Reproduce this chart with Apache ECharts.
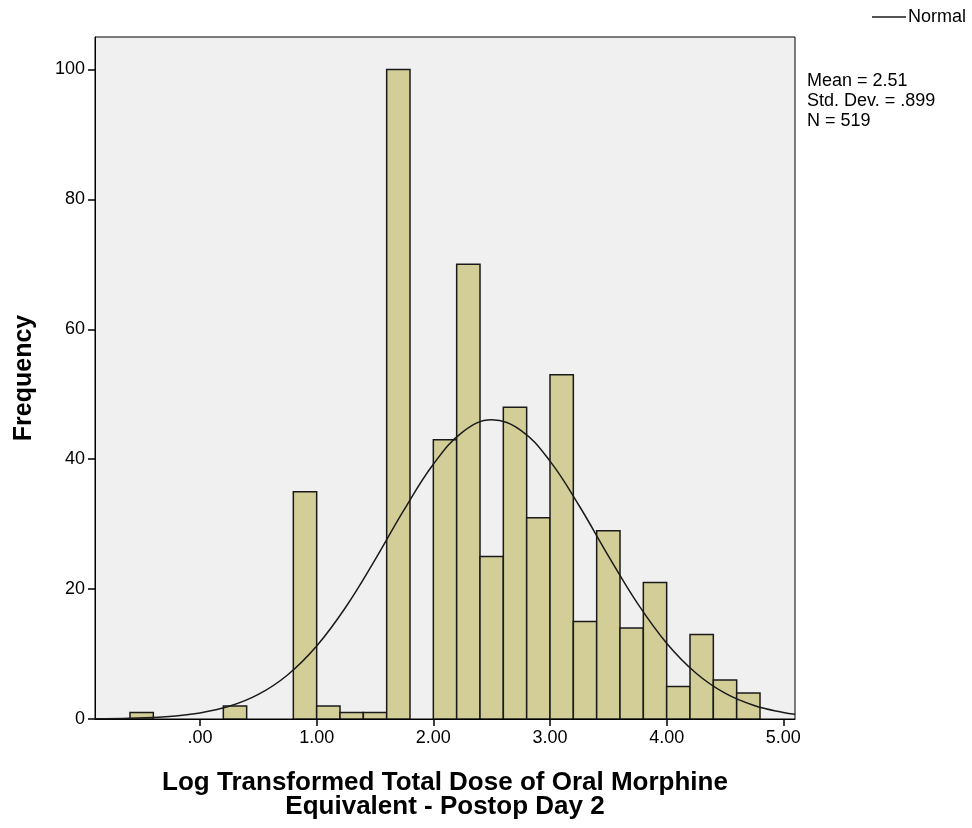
<!DOCTYPE html>
<html>
<head>
<meta charset="utf-8">
<script src="https://cdn.jsdelivr.net/npm/echarts@6/dist/echarts.min.js"></script>
<style>
html,body{margin:0;padding:0;background:#fff;}
#main{width:972px;height:828px;}
</style>
</head>
<body>
<div id="main"></div>
<script>
// ---- data ----
var binLow = [-0.6, 0.2, 0.8, 1.0, 1.2, 1.4, 1.6, 2.0, 2.2, 2.4, 2.6, 2.8, 3.0, 3.2, 3.4, 3.6, 3.8, 4.0, 4.2, 4.4, 4.6];
var binHigh = [-0.4, 0.4, 1.0, 1.2, 1.4, 1.6, 1.8, 2.2, 2.4, 2.6, 2.8, 3.0, 3.2, 3.4, 3.6, 3.8, 4.0, 4.2, 4.4, 4.6, 4.8];
var frequency = [1, 2, 35, 2, 1, 1, 100, 43, 70, 25, 48, 31, 53, 15, 29, 14, 21, 5, 13, 6, 4];

// fitted normal curve (Mean = 2.51, SD = .899, N = 519), sampled points
var curveX = [-0.9, -0.6, -0.3, 0, 0.25, 0.5, 0.75, 1.0, 1.25, 1.5, 1.75, 2.0, 2.25, 2.5, 2.75, 3.0, 3.25, 3.5, 3.75, 4.0, 4.25, 4.5, 4.75, 5.0, 5.1];
var curveY = [0.04, 0.12, 0.35, 0.94, 1.95, 3.78, 6.78, 11.24, 17.25, 24.5, 32.22, 39.22, 44.17, 46.06, 44.45, 39.7, 32.83, 25.12, 17.79, 11.66, 7.08, 3.97, 2.07, 0.99, 0.73];

var xTickValues = [0, 1, 2, 3, 4, 5];
var xTickLabels = ['.00', '1.00', '2.00', '3.00', '4.00', '5.00'];
var yTickValues = [0, 20, 40, 60, 80, 100];
var yTickLabels = ['0', '20', '40', '60', '80', '100'];

var statsLines = ['Mean = 2.51', 'Std. Dev. = .899', 'N = 519'];
var xTitle = 'Log Transformed Total Dose of Oral Morphine\nEquivalent - Postop Day 2';
var yTitle = 'Frequency';
var seriesName = 'Normal';

// ---- chart ----
var FONT = '"Liberation Sans", Arial, sans-serif';
var chart = echarts.init(document.getElementById('main'), null, {renderer: 'canvas'});

var barData = binLow.map(function (lo, i) { return [lo, binHigh[i], frequency[i]]; });
var curveData = curveX.map(function (x, i) { return [x, curveY[i]]; });

var option = {
  backgroundColor: '#ffffff',
  animation: false,
  textStyle: {fontFamily: FONT},
  grid: {
    left: 95, top: 37, width: 700, height: 682,
    show: true, backgroundColor: '#f0f0f0', borderColor: '#000', borderWidth: 1,
    containLabel: false
  },
  xAxis: {
    type: 'value', min: -0.9, max: 5.1,
    splitLine: {show: false},
    axisLine: {show: true, onZero: false, lineStyle: {color: '#000', width: 1}},
    axisTick: {show: true, length: 7, customValues: xTickValues, lineStyle: {color: '#000', width: 1.5}},
    axisLabel: {
      customValues: xTickValues, margin: 10, color: '#000', fontFamily: FONT, fontSize: 18,
      formatter: function (v) { var i = xTickValues.indexOf(v); return i >= 0 ? xTickLabels[i] : ''; }
    },
    name: xTitle, nameLocation: 'middle', nameGap: 52,
    nameTextStyle: {fontFamily: FONT, fontSize: 26, fontWeight: 'bold', color: '#000', lineHeight: 24}
  },
  yAxis: {
    type: 'value', min: 0, max: 105,
    splitLine: {show: false},
    axisLine: {show: true, onZero: false, lineStyle: {color: '#000', width: 1}},
    axisTick: {show: true, length: 7, customValues: yTickValues, lineStyle: {color: '#000', width: 1.5}},
    axisLabel: {
      customValues: yTickValues, margin: 10, color: '#000', fontFamily: FONT, fontSize: 18,
      formatter: function (v) { var i = yTickValues.indexOf(v); return i >= 0 ? yTickLabels[i] : ''; }
    },
    name: yTitle, nameLocation: 'middle', nameGap: 58,
    nameTextStyle: {fontFamily: FONT, fontSize: 25, fontWeight: 'bold', color: '#000'}
  },
  graphic: [
    {
      type: 'text', left: 807, top: 71,
      style: {text: statsLines.join('\n'), font: '18px ' + FONT, fill: '#000', lineHeight: 20}
    },
    {
      type: 'line', shape: {x1: 872, y1: 17, x2: 906, y2: 17},
      style: {stroke: '#1a1a1a', lineWidth: 1.5}
    },
    {
      type: 'text', left: 908, top: 8,
      style: {text: seriesName, font: '18px ' + FONT, fill: '#000'}
    }
  ],
  series: [
    {
      type: 'custom',
      name: 'Histogram',
      data: barData,
      encode: {x: [0, 1], y: 2},
      clip: true,
      z: 2,
      renderItem: function (params, api) {
        var p0 = api.coord([api.value(0), api.value(2)]);
        var p1 = api.coord([api.value(1), 0]);
        return {
          type: 'rect',
          shape: {x: p0[0], y: p0[1], width: p1[0] - p0[0], height: p1[1] - p0[1]},
          style: {fill: '#d3ce97', stroke: '#1a1a1a', lineWidth: 1.5}
        };
      }
    },
    {
      type: 'line',
      name: seriesName,
      data: curveData,
      smooth: 0.4,
      symbol: 'none',
      showSymbol: false,
      clip: true,
      z: 3,
      lineStyle: {color: '#1a1a1a', width: 1.5},
      itemStyle: {color: '#1a1a1a'}
    }
  ]
};
chart.setOption(option);
</script>
</body>
</html>
